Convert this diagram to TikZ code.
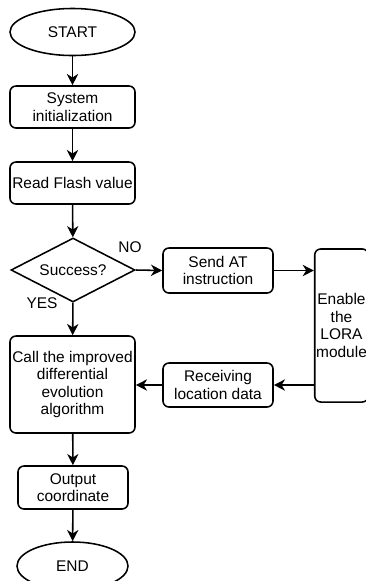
\documentclass[tikz,border=0pt]{standalone}
\usepackage{fontspec}
\setmainfont{Liberation Sans}
\usetikzlibrary{shapes.geometric,arrows.meta}

\begin{document}
\begin{tikzpicture}[x=0.025cm, y=-0.025cm,
    every node/.style={font=\fontsize{11}{12.5}\selectfont, align=center, inner sep=1pt},
    terminal/.style={draw, ellipse, line width=1.1pt, minimum width=3.125cm, minimum height=1.175cm},
    process/.style={draw, rectangle, rounded corners=0.15cm, line width=1.1pt, minimum width=3.125cm, minimum height=1.05cm},
    decision/.style={draw, diamond, aspect=1.9, line width=1.1pt, minimum width=3.1cm, minimum height=1.6cm, inner sep=0pt},
    flow/.style={line width=1.1pt, -{Stealth[length=8pt, width=8pt, inset=2.5pt]}}]
    \useasboundingbox (0,0) rectangle (366,581);
    \clip (0,0) rectangle (366,581);
    %---------------------------------------------------------------%
    \node [terminal] (start) at (72.5, 32)  {START};
    \node [process] (init) at (72.5, 107)  {System\\initialization};
    \node [process] (flash) at (72.5, 183)  {Read Flash value};
    \node [decision] (success) at (73, 270)  {Success?};
    \node [process, minimum width=3.125cm, minimum height=2.425cm] (call) at (72.5, 384.5)
          {Call the improved\\differential\\evolution\\algorithm};
    \node [process, minimum width=2.75cm, minimum height=1.075cm] (output) at (73, 487.5)  {Output\\coordinate};
    \node [terminal, minimum width=2.775cm, minimum height=1.2cm] (end) at (72.5, 566)  {END};
    %---------------------------------------------------------------%
    \node [process, minimum width=2.75cm, minimum height=1.125cm] (send) at (218, 270.5)  {Send AT\\instruction};
    \node [process, minimum width=1.325cm, minimum height=3.825cm] (lora) at (341.5, 325.5)  {Enable\\the\\LORA\\module};
    \node [process, minimum width=2.75cm, minimum height=1.1cm] (recv) at (218, 385)  {Receiving\\location data};
    %---------------------------------------------------------------%
    \node (no) at (130, 247)  {NO};
    \node (yes) at (42, 303)  {YES};
    %---------------------------------------------------------------%
    \draw [flow] (start) -- (init);
    \draw [flow] (init) -- (flash);
    \draw [flow] (flash) -- (success);
    \draw [flow] (success) -- (call);
    \draw [flow] (call) -- (output);
    \draw [flow] (output) -- (end);
    \draw [flow] (success.east) -- (send.west);
    \draw [flow] (send.east) -- (send.east -| lora.west);
    \draw [flow] (recv.east -| lora.west) -- (recv.east);
    \draw [flow] (recv.west) -- (call.east |- recv.west);
\end{tikzpicture}
\end{document}
